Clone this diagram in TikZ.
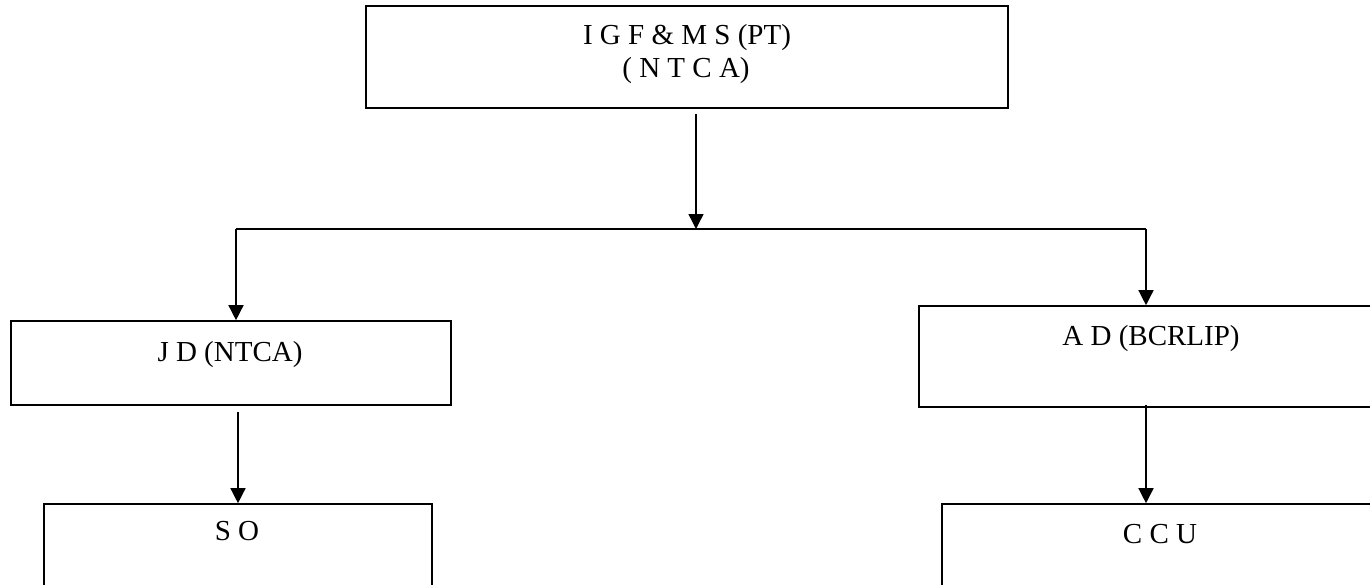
\documentclass[tikz,border=0pt]{standalone}
\usepackage{fontspec}
\setmainfont{Liberation Serif}
\usetikzlibrary{arrows.meta}
\begin{document}
\begin{tikzpicture}[x=1pt,y=-1pt,
  box/.style={draw=black,line width=1.6pt,rectangle,inner sep=0pt,anchor=center},
  lbl/.style={anchor=base,inner sep=0pt,font=\fontsize{29}{34}\selectfont},
  arr/.style={line width=1.4pt,-{Triangle[width=15pt,length=15pt]}},
  conn/.style={line width=1.4pt}]
\useasboundingbox (0,0) rectangle (1370,584);
\clip (0,0) rectangle (1370,584);
\fill[white] (0,0) rectangle (1370,584);
% boxes
\node[box,minimum width=642pt,minimum height=102pt] (top) at (687,57) {};
\node[box,minimum width=440pt,minimum height=84pt] (jd) at (231,363) {};
\node[box,minimum width=388pt,minimum height=116pt] (so) at (238,562) {};
\node[box,minimum width=481pt,minimum height=101pt] (ad) at (1159.5,356.5) {};
\node[box,minimum width=458pt,minimum height=116pt] (ccu) at (1171,562) {};
% labels
\node[lbl] (t1) at (687,44) {I G F \& M S (PT)};
\node[lbl] (t2) at (686,77) {( N T C A)};
\node[lbl] (tjd) at (230,361) {J D (NTCA)};
\node[lbl] (tad) at (1151,345) {A D (BCRLIP)};
\node[lbl] (tso) at (237,540) {S O};
\node[lbl] (tccu) at (1160,543) {C C U};
% connectors
\coordinate (hl) at (236,229);
\coordinate (hm) at (696,229);
\coordinate (hr) at (1146,229);
\draw[arr] ([yshift=-5pt]hm |- top.south) -- (hm);
\draw[conn] (hl) -- (hr);
\draw[arr] (hl) -- (hl |- jd.north);
\draw[arr] (hr) -- (hr |- ad.north);
\draw[arr] ([yshift=-6pt]jd.south -| so.north) -- (so.north);
\draw[arr] ([yshift=3pt]hr |- ad.south) -- (hr |- ccu.north);
\end{tikzpicture}
\end{document}
